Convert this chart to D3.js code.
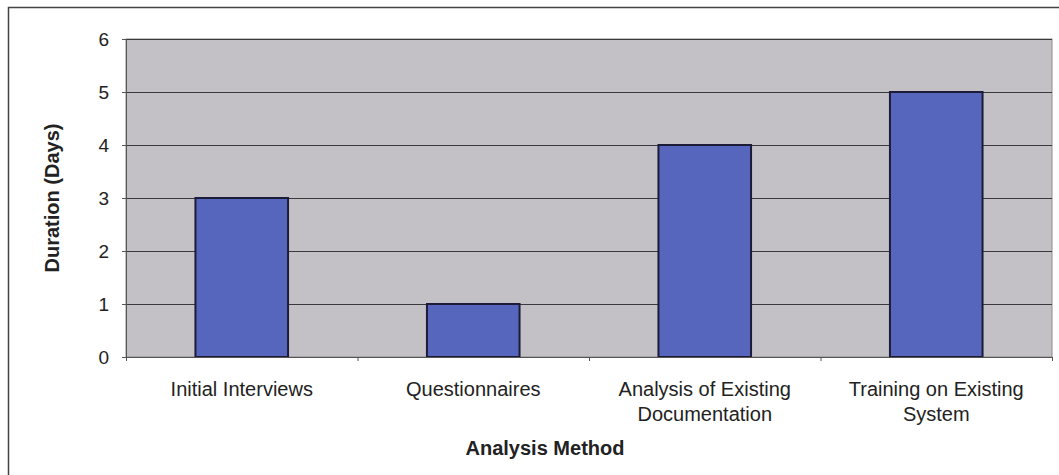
<!DOCTYPE html>
<meta charset="utf-8">
<script src="https://d3js.org/d3.v7.min.js"></script>
<style>
  body { margin: 0; background: #fff; }
  text { font-family: "Liberation Sans", Arial, sans-serif; fill: #222; }
</style>
<div id="chart"></div>
<script>
  var methods = [["Initial Interviews"], ["Questionnaires"], ["Analysis of Existing", "Documentation"], ["Training on Existing", "System"]];
  var durations = [3, 1, 4, 5];
  var yTicks = [0, 1, 2, 3, 4, 5, 6];

  var width = 1059, height = 475;
  var plotL = 126, plotT = 39, plotR = 1052, plotB = 357;

  var svg = d3.select("#chart").append("svg")
    .attr("width", width)
    .attr("height", height);

  // outer frame
  svg.append("rect")
    .attr("x", 8.5).attr("y", 7.5)
    .attr("width", 1060).attr("height", 480)
    .attr("fill", "none").attr("stroke", "#444").attr("stroke-width", 1.5);

  var x = d3.scaleBand()
    .domain(d3.range(methods.length))
    .range([plotL, plotR])
    .paddingInner(0.6).paddingOuter(0.3);

  var y = d3.scaleLinear().domain([0, 6]).range([plotB, plotT]);

  // plot background
  svg.append("rect")
    .attr("x", plotL).attr("y", plotT)
    .attr("width", plotR - plotL).attr("height", plotB - plotT)
    .attr("fill", "#c3c1c6").attr("stroke", "#8a8a8a");

  // gridlines
  svg.selectAll(".grid")
    .data(yTicks.slice(1))
    .enter().append("line")
    .attr("x1", plotL).attr("x2", plotR)
    .attr("y1", function (d) { return y(d) + 0.5; })
    .attr("y2", function (d) { return y(d) + 0.5; })
    .attr("stroke", "#3a3a3a").attr("stroke-width", 1);

  // bars
  svg.selectAll(".bar")
    .data(durations)
    .enter().append("rect")
    .attr("x", function (d, i) { return x(i); })
    .attr("y", function (d) { return y(d); })
    .attr("width", x.bandwidth())
    .attr("height", function (d) { return y(0) - y(d); })
    .attr("fill", "#5566bc")
    .attr("stroke", "#1c1c38").attr("stroke-width", 2);

  // y axis
  var yAxis = svg.append("g")
    .attr("transform", "translate(" + plotL + ",0)")
    .call(d3.axisLeft(y).tickValues(yTicks).tickFormat(d3.format("d")).tickSize(4).tickPadding(13));
  yAxis.select(".domain").attr("stroke", "#555");
  yAxis.selectAll("line").attr("stroke", "#555");
  yAxis.selectAll("text").style("font-size", "19px").attr("fill", "#222");

  // x axis: ticks at category boundaries
  var xb = d3.scaleLinear().domain([0, methods.length]).range([plotL, plotR]);
  var xAxis = svg.append("g")
    .attr("transform", "translate(0," + plotB + ")")
    .call(d3.axisBottom(xb).ticks(methods.length).tickSize(4).tickFormat(""));
  xAxis.select(".domain").attr("stroke", "#555");
  xAxis.selectAll("line").attr("stroke", "#555");

  // category labels
  var labels = svg.selectAll(".cat")
    .data(methods)
    .enter().append("text")
    .attr("text-anchor", "middle")
    .attr("x", function (d, i) { return x(i) + x.bandwidth() / 2; })
    .attr("y", 396)
    .style("font-size", "20px");
  labels.selectAll("tspan")
    .data(function (d, i) { return d.map(function (t) { return { t: t, i: i }; }); })
    .enter().append("tspan")
    .attr("x", function (d) { return x(d.i) + x.bandwidth() / 2; })
    .attr("dy", function (d, j) { return j === 0 ? 0 : 25; })
    .text(function (d) { return d.t; });

  // axis titles
  svg.append("text")
    .attr("x", 545).attr("y", 455)
    .attr("text-anchor", "middle")
    .style("font-size", "20px").style("font-weight", "bold")
    .text("Analysis Method");

  svg.append("text")
    .attr("transform", "translate(59," + (plotT + plotB) / 2 + ") rotate(-90)")
    .attr("text-anchor", "middle")
    .style("font-size", "20px").style("font-weight", "bold")
    .text("Duration (Days)");
</script>
